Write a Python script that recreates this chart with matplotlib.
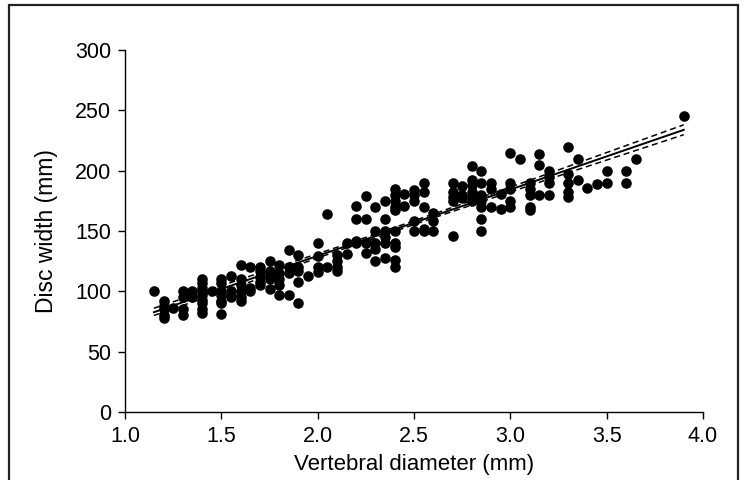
import matplotlib
matplotlib.use('Agg')
import matplotlib.pyplot as plt
from matplotlib.patches import Rectangle

plt.rcParams['font.family'] = ['Liberation Sans', 'DejaVu Sans']

# vertebral diameter (mm) and disc width (mm), read column by column
diameter = [1.15,
            1.2, 1.2, 1.2, 1.2, 1.2,
            1.25,
            1.3, 1.3, 1.3, 1.3,
            1.35, 1.35,
            1.4, 1.4, 1.4, 1.4, 1.4, 1.4, 1.4, 1.4, 1.4,
            1.45,
            1.5, 1.5, 1.5, 1.5, 1.5, 1.5, 1.5,
            1.55, 1.55, 1.55, 1.55,
            1.6, 1.6, 1.6, 1.6, 1.6, 1.6,
            1.65, 1.65, 1.65,
            1.7, 1.7, 1.7, 1.7, 1.7,
            1.75, 1.75, 1.75, 1.75, 1.75,
            1.8, 1.8, 1.8, 1.8, 1.8,
            1.85, 1.85, 1.85, 1.85,
            1.9, 1.9, 1.9, 1.9, 1.9,
            1.95,
            2.0, 2.0, 2.0, 2.0,
            2.05, 2.05,
            2.1, 2.1, 2.1, 2.1,
            2.15, 2.15,
            2.2, 2.2, 2.2, 2.2,
            2.25, 2.25, 2.25, 2.25,
            2.3, 2.3, 2.3, 2.3, 2.3,
            2.35, 2.35, 2.35, 2.35, 2.35, 2.35,
            2.4, 2.4, 2.4, 2.4, 2.4, 2.4, 2.4, 2.4, 2.4, 2.4,
            2.45, 2.45,
            2.5, 2.5, 2.5, 2.5, 2.5,
            2.55, 2.55, 2.55, 2.55, 2.55,
            2.6, 2.6, 2.6,
            2.7, 2.7, 2.7, 2.7, 2.7,
            2.75, 2.75, 2.75,
            2.8, 2.8, 2.8, 2.8, 2.8, 2.8,
            2.85, 2.85, 2.85, 2.85, 2.85, 2.85, 2.85,
            2.9, 2.9, 2.9,
            2.95, 2.95,
            3.0, 3.0, 3.0, 3.0, 3.0,
            3.05,
            3.1, 3.1, 3.1, 3.1, 3.1,
            3.15, 3.15, 3.15,
            3.2, 3.2, 3.2, 3.2,
            3.3, 3.3, 3.3, 3.3, 3.3,
            3.35, 3.35,
            3.4,
            3.45,
            3.5, 3.5,
            3.6, 3.6,
            3.65,
            3.9]

disc_width = [100,
              92, 88, 85, 80, 78,
              86,
              100, 95, 85, 80,
              100, 95,
              110, 107, 103, 100, 97, 93, 90, 85, 82,
              100,
              110, 107, 100, 97, 92, 90, 81,
              113, 100, 97, 95,
              122, 110, 105, 100, 95, 92,
              120, 103, 100,
              120, 117, 112, 108, 105,
              125, 117, 113, 110, 102,
              122, 115, 110, 105, 97,
              134, 120, 115, 97,
              130, 120, 117, 108, 90,
              113,
              140, 129, 120, 116,
              164, 120,
              130, 125, 120, 117,
              140, 131,
              171, 160, 142, 140,
              179, 160, 140, 132,
              170, 150, 140, 135, 125,
              175, 160, 150, 145, 140, 128,
              185, 180, 175, 170, 167, 150, 140, 137, 126, 120,
              181, 171,
              184, 180, 175, 158, 150,
              190, 182, 170, 152, 150,
              165, 158, 150,
              190, 182, 178, 175, 146,
              187, 180, 177,
              204, 192, 188, 182, 178, 175,
              200, 190, 180, 175, 170, 160, 150,
              190, 185, 170,
              181, 168,
              215, 190, 185, 175, 170,
              210,
              190, 185, 180, 170, 167,
              214, 205, 180,
              200, 195, 190, 180,
              220, 197, 190, 182, 178,
              210, 192,
              186,
              189,
              200, 190,
              200, 190,
              210,
              245]

# regression line and its confidence limits
fit_x = [1.15, 3.9]
fit_y = [82.7, 233.8]
ci_x = [1.15, 1.6, 2.1, 2.6, 3.1, 3.5, 3.9]
ci_upper = [86.0, 110.0, 136.5, 164.0, 192.0, 215.0, 238.0]
ci_lower = [80.0, 105.0, 133.3, 160.8, 187.7, 208.8, 229.8]

x_ticks = [1.0, 1.5, 2.0, 2.5, 3.0, 3.5, 4.0]
y_ticks = [0, 50, 100, 150, 200, 250, 300]

fig = plt.figure(figsize=(7.46, 4.80), dpi=100)
ax = fig.add_axes([125 / 746, 68 / 480, 578 / 746, 362 / 480])

ax.scatter(diameter, disc_width, s=58, color='black', zorder=3, linewidths=0)
ax.plot(fit_x, fit_y, color='black', lw=1.4, zorder=4)
ax.plot(ci_x, ci_upper, color='black', lw=1.1, ls=(0, (4, 2.5)), zorder=4)
ax.plot(ci_x, ci_lower, color='black', lw=1.1, ls=(0, (4, 2.5)), zorder=4)

ax.set_xlim(1.0, 4.0)
ax.set_ylim(0, 300)
ax.set_xticks(x_ticks)
ax.set_xticklabels([f'{t:.1f}' for t in x_ticks])
ax.set_yticks(y_ticks)
ax.spines['top'].set_visible(False)
ax.spines['right'].set_visible(False)
for s in ('left', 'bottom'):
    ax.spines[s].set_linewidth(1.0)
ax.tick_params(direction='out', length=5, width=1.0, labelsize=15.5, pad=5)
ax.set_xlabel('Vertebral diameter (mm)', fontsize=16, labelpad=5)
ax.set_ylabel('Disc width (mm)', fontsize=16.5, labelpad=12)

# frame around the whole figure (runs off the bottom edge)
fig.patches.append(Rectangle((9 / 746, -0.02), 729 / 746, 1.02 - 5 / 480,
                             transform=fig.transFigure, fill=False,
                             edgecolor='#222222', lw=1.6))

fig.savefig('out.png', dpi=100)
